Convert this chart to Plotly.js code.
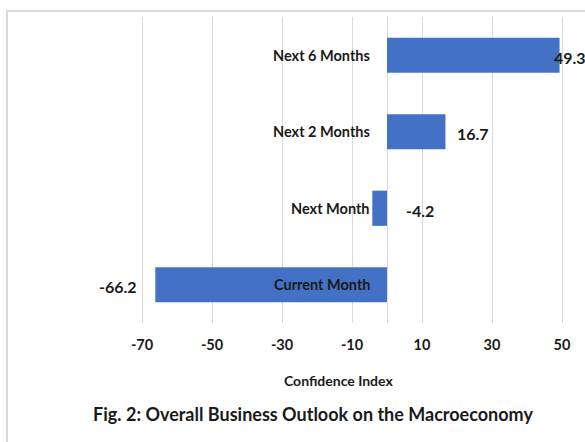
<!DOCTYPE html>
<html>
<head>
<meta charset="utf-8">
<script src="https://cdn.plot.ly/plotly-3.0.1.min.js"></script>
<style>
  html, body { margin: 0; padding: 0; background: #ffffff; }
  #chart { width: 585px; height: 442px; }
</style>
</head>
<body>
<div id="chart"></div>
<script>
// Data (bottom to top in Plotly order)
var categories = ['Current Month', 'Next Month', 'Next 2 Months', 'Next 6 Months'];
var values = [-66.2, -4.2, 16.7, 49.3];
var valueLabels = ['-66.2', '-4.2', '16.7', '49.3'];
var tickVals = [-70, -50, -30, -10, 10, 30, 50];
var tickText = ['-70', '-50', '-30', '-10', '10', '30', '50'];
var chartTitle = 'Fig. 2: Overall Business Outlook on the Macroeconomy';
var xTitle = 'Confidence Index';

var FONT = 'Lato, "Open Sans", "DejaVu Sans", sans-serif';

var trace = {
  type: 'bar',
  orientation: 'h',
  y: categories,
  x: values,
  marker: { color: '#4371c6', line: { width: 0 } },
  hoverinfo: 'skip'
};

// plot area in pixels: left, width, bottom (from top), height
var PL = 135, PW = 434, PB = 323, PH = 306;

var annotations = [];
// category labels next to the zero axis
categories.forEach(function (c) {
  annotations.push({
    x: 0, y: c, xref: 'x', yref: 'y', text: c, showarrow: false,
    xanchor: 'right', yanchor: 'middle', xshift: -15,
    font: { family: FONT, size: 14.5, color: '#1a1a1a', weight: 'bold' }
  });
});
// value labels
values.forEach(function (v, i) {
  var a = {
    y: categories[i], xref: 'x', yref: 'y', text: valueLabels[i], showarrow: false,
    yanchor: 'middle', yshift: -2,
    font: { family: FONT, size: 16, color: '#1a1a1a', weight: 'bold' }
  };
  if (v < -20) { a.x = v; a.xanchor = 'right'; a.xshift = -16; }
  else if (v < 0) { a.x = 0; a.xanchor = 'left'; a.xshift = 17; }
  else if (v > 45) { a.x = v; a.xanchor = 'left'; a.xshift = -8; }
  else { a.x = v; a.xanchor = 'left'; a.xshift = 10; }
  annotations.push(a);
});
// axis title
annotations.push({
  xref: 'paper', yref: 'paper', x: (338 - PL) / PW, y: (PB - 380) / PH,
  text: xTitle, showarrow: false, xanchor: 'center', yanchor: 'middle',
  font: { family: FONT, size: 14, color: '#1a1a1a', weight: 'bold' }
});

var layout = {
  width: 585, height: 442,
  margin: { l: PL, r: 585 - PL - PW, t: PB - PH, b: 442 - PB, pad: 0 },
  paper_bgcolor: '#ffffff', plot_bgcolor: '#ffffff',
  showlegend: false,
  bargap: 0.54,
  title: {
    text: chartTitle, xref: 'container', yref: 'container',
    x: 313 / 585, y: 1 - 415 / 442, xanchor: 'center', yanchor: 'middle',
    font: { family: FONT, size: 18, color: '#1a1a1a', weight: 'bold' }
  },
  xaxis: {
    range: [-72, 52], tickvals: tickVals, ticktext: tickText,
    showgrid: true, gridcolor: '#d9d9d9', gridwidth: 1,
    zeroline: true, zerolinecolor: '#d9d9d9', zerolinewidth: 1,
    showline: false, ticks: '', ticklabelstandoff: 11,
    tickfont: { family: FONT, size: 14.5, color: '#1a1a1a', weight: 'bold' },
    fixedrange: true
  },
  yaxis: {
    showticklabels: false, showgrid: false, zeroline: false, showline: false,
    ticks: '', fixedrange: true
  },
  annotations: annotations,
  shapes: [{
    type: 'rect', xref: 'paper', yref: 'paper', layer: 'below',
    x0: (7 - PL) / PW, x1: 1.3, y0: -0.6, y1: (PB - 11) / PH,
    line: { color: '#d9d9d9', width: 2 }, fillcolor: 'rgba(0,0,0,0)'
  }]
};

Plotly.newPlot('chart', [trace], layout, { displayModeBar: false, staticPlot: true });
</script>
</body>
</html>
